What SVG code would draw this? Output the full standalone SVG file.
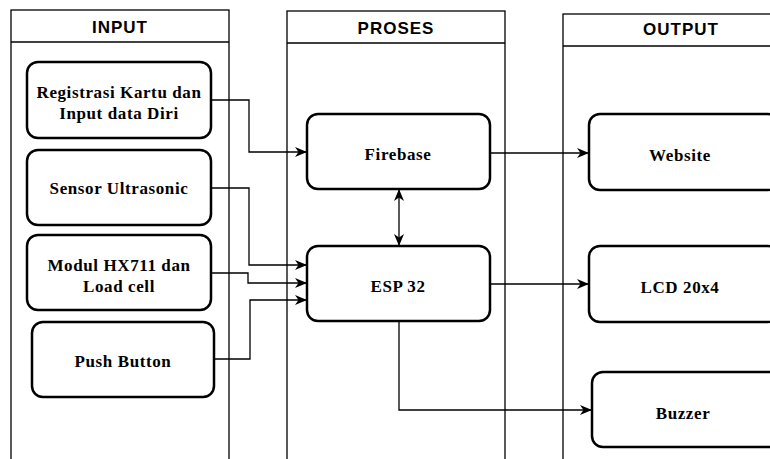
<svg xmlns="http://www.w3.org/2000/svg" width="770" height="459" viewBox="0 0 770 459">
<style>
.lane{fill:none;stroke:#000;stroke-width:1.3}
.hdr{font-family:"Liberation Sans",Arial,sans-serif;font-size:17px;font-weight:bold;letter-spacing:1px;text-anchor:middle;fill:#000}
.box{fill:#fff;stroke:#000;stroke-width:2.5}
.lbl{font-family:"Liberation Serif","Times New Roman",serif;font-size:17px;font-weight:bold;letter-spacing:0.6px;text-anchor:middle;fill:#000}
.conn{fill:none;stroke:#000;stroke-width:1.3}
</style>
<defs>
<marker id="ah" viewBox="0 0 12 10" refX="11" refY="5" markerWidth="12" markerHeight="10" markerUnits="userSpaceOnUse" orient="auto-start-reverse">
<path d="M0,0 L12,5 L0,10 L3.5,5 Z" fill="#000"/>
</marker>
</defs>
<rect width="770" height="459" fill="#fff"/>
<g id="lane-input">
<rect class="lane" x="11" y="10" width="218" height="460"/>
<line class="lane" x1="11" y1="42" x2="229" y2="42"/>
<text class="hdr" x="120" y="33">INPUT</text>
</g>
<g id="lane-proses">
<rect class="lane" x="287" y="11" width="218" height="460"/>
<line class="lane" x1="287" y1="43" x2="505" y2="43"/>
<text class="hdr" x="396" y="34">PROSES</text>
</g>
<g id="lane-output">
<rect class="lane" x="563" y="14" width="220" height="460"/>
<line class="lane" x1="563" y1="46" x2="783" y2="46"/>
<text class="hdr" x="681" y="35">OUTPUT</text>
</g>
<g id="connectors">
<polyline class="conn" points="211,100 249,100 249,152 306,152" marker-end="url(#ah)"/>
<polyline class="conn" points="211,188 249,188 249,265 306,265" marker-end="url(#ah)"/>
<polyline class="conn" points="211,273 248,273 248,283 306,283" marker-end="url(#ah)"/>
<polyline class="conn" points="214,359 250,359 250,300 306,300" marker-end="url(#ah)"/>
<line class="conn" x1="399" y1="190" x2="399" y2="245" marker-start="url(#ah)" marker-end="url(#ah)"/>
<line class="conn" x1="490" y1="153" x2="588" y2="153" marker-end="url(#ah)"/>
<line class="conn" x1="490" y1="284" x2="588" y2="284" marker-end="url(#ah)"/>
<polyline class="conn" points="399,321 399,410 591,410" marker-end="url(#ah)"/>
</g>
<g id="registrasi">
<rect class="box" x="27" y="62" width="184" height="76" rx="11"/>
<text class="lbl" x="119" y="98">Registrasi Kartu dan</text>
<text class="lbl" x="119" y="119">Input data Diri</text>
</g>
<g id="ultrasonic">
<rect class="box" x="27" y="150" width="184" height="75" rx="11"/>
<text class="lbl" x="119" y="194">Sensor Ultrasonic</text>
</g>
<g id="hx711">
<rect class="box" x="27" y="235" width="184" height="75" rx="11"/>
<text class="lbl" x="119" y="271">Modul HX711 dan</text>
<text class="lbl" x="119" y="292">Load cell</text>
</g>
<g id="pushbutton">
<rect class="box" x="32" y="322" width="182" height="75" rx="11"/>
<text class="lbl" x="123" y="367">Push Button</text>
</g>
<g id="firebase">
<rect class="box" x="307" y="114" width="183" height="75" rx="11"/>
<text class="lbl" x="398" y="160">Firebase</text>
</g>
<g id="esp32">
<rect class="box" x="307" y="246" width="183" height="75" rx="11"/>
<text class="lbl" x="398" y="292">ESP 32</text>
</g>
<g id="website">
<rect class="box" x="589" y="114" width="190" height="76" rx="11"/>
<text class="lbl" x="680" y="161">Website</text>
</g>
<g id="lcd">
<rect class="box" x="589" y="246" width="190" height="76" rx="11"/>
<text class="lbl" x="680" y="293">LCD 20x4</text>
</g>
<g id="buzzer">
<rect class="box" x="592" y="372" width="190" height="75" rx="11"/>
<text class="lbl" x="683" y="419">Buzzer</text>
</g>
</svg>
